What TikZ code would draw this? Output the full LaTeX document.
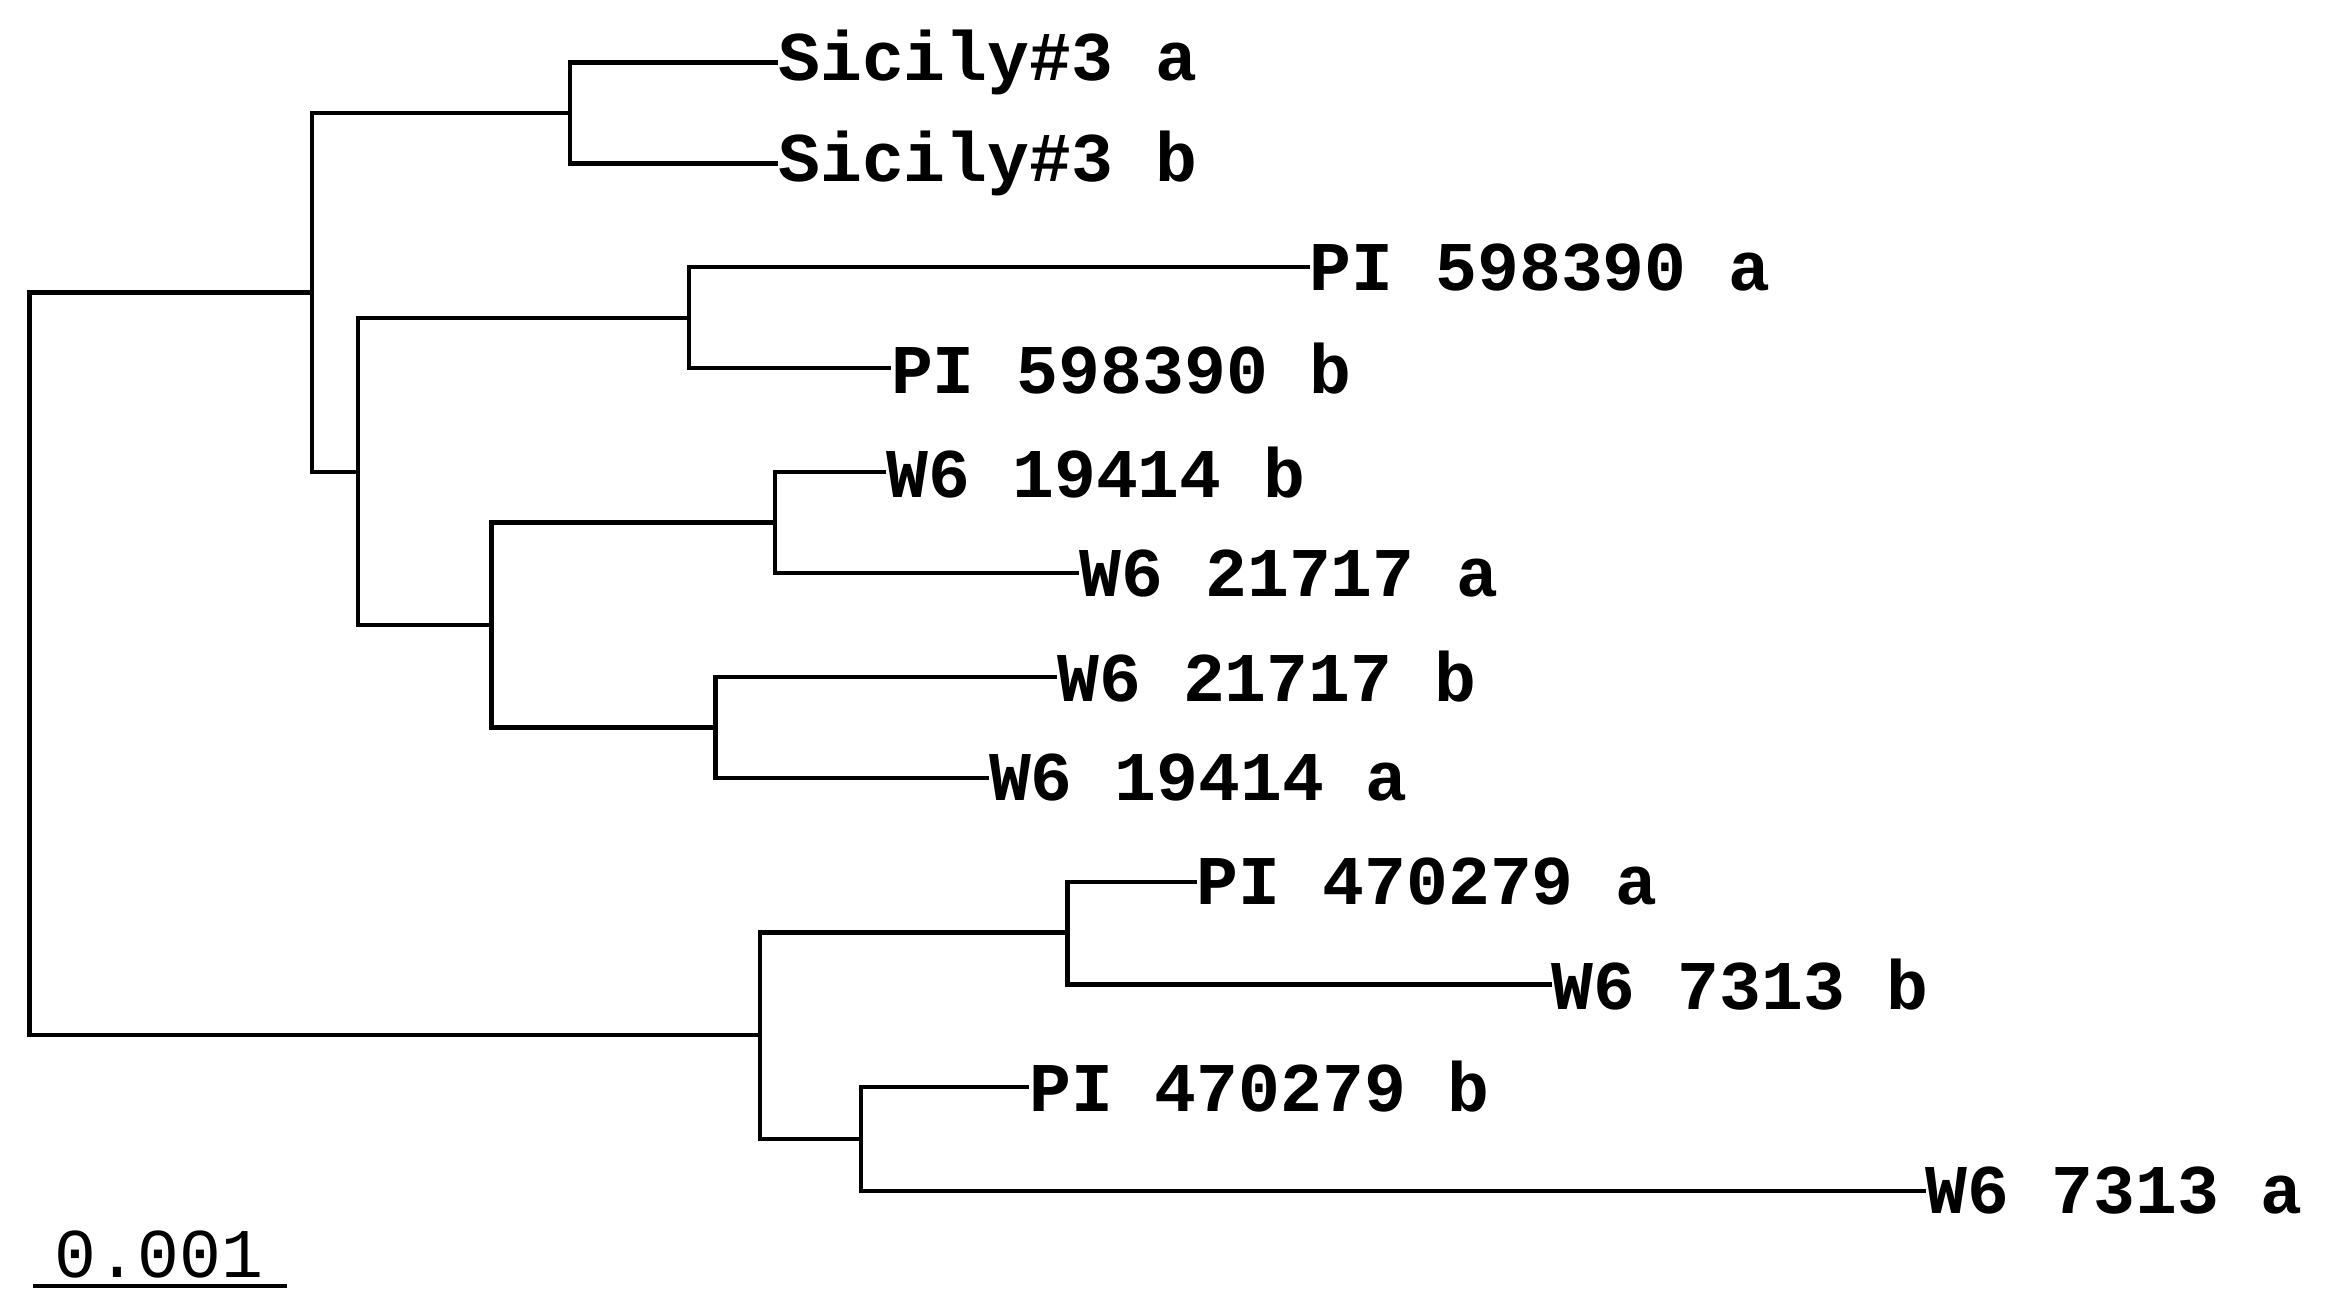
\documentclass[tikz,border=0pt]{standalone}
\usepackage{fontspec}
\setmainfont{Liberation Mono}
\begin{document}
\begin{tikzpicture}[x=1pt,y=-1pt,
 leaf/.style={anchor=west,inner sep=0pt,font=\fontsize{47}{47}\selectfont\bfseries},
 br/.style={line width=3pt}]
\useasboundingbox (0,0) rectangle (1568,883);
% leaves
\node[leaf] (l1) at (524,42) {Sicily\#3 a};
\node[leaf] (l2) at (524,110) {Sicily\#3 b};
\node[leaf] (l3) at (882,180) {PI 598390 a};
\node[leaf] (l4) at (600,248) {PI 598390 b};
\node[leaf] (l5) at (597,318) {W6 19414 b};
\node[leaf] (l6) at (727,386) {W6 21717 a};
\node[leaf] (l7) at (712,456) {W6 21717 b};
\node[leaf] (l8) at (666,524) {W6 19414 a};
\node[leaf] (l9) at (806,594) {PI 470279 a};
\node[leaf] (l10) at (1045,663) {W6 7313 b};
\node[leaf] (l11) at (693,732) {PI 470279 b};
\node[leaf] (l12) at (1297,802) {W6 7313 a};
% internal nodes
\coordinate (s) at (384,76);
\coordinate (p) at (464,214);
\coordinate (wa) at (522,352);
\coordinate (wb) at (482,490);
\coordinate (w) at (331,421);
\coordinate (pw) at (241,318);
\coordinate (top) at (210,197);
\coordinate (qa) at (719,628);
\coordinate (qb) at (580,767);
\coordinate (q) at (512,697);
\coordinate (r) at (20,447);
\foreach \n/\a/\b in {s/l1/l2,p/l3/l4,wa/l5/l6,wb/l7/l8,w/wa/wb,pw/p/w,top/s/pw,qa/l9/l10,qb/l11/l12,q/qa/qb,r/top/q}{
 \draw[br] (\a.west) -| (\n) |- (\b.west);
}
% scale bar
\coordinate (sb1) at (22,866);
\coordinate (sb2) at (193,866);
\draw[line width=3pt] (sb1) -- (sb2);
\node[inner sep=0pt,font=\fontsize{47}{47}\selectfont] (sbl) at (107,845) {0.001};
\end{tikzpicture}
\end{document}
